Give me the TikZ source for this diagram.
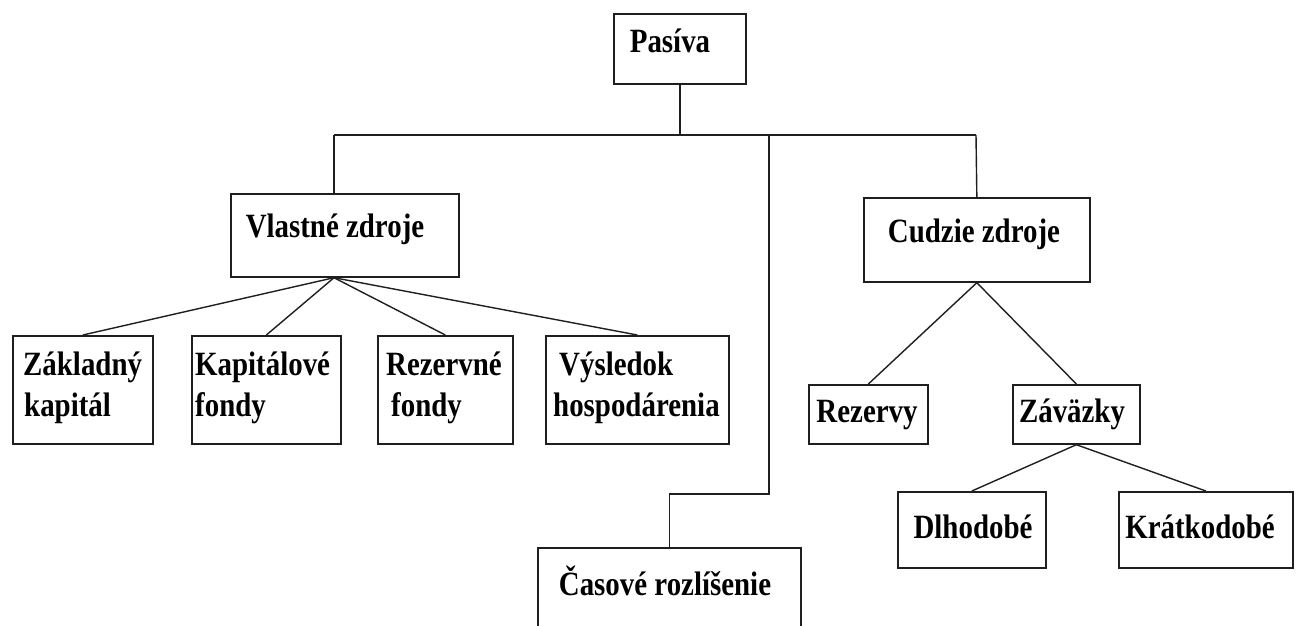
\documentclass[tikz,border=0pt]{standalone}
\usepackage{fontspec}
\setmainfont{Liberation Serif}[FakeStretch=0.85]
\usetikzlibrary{calc}
\begin{document}
\begin{tikzpicture}[x=1pt,y=-1pt,
  box/.style={draw=black!88, line width=1.7pt, inner sep=0pt, anchor=north west},
  link/.style={draw=black!88, line width=1.4pt},
  lbl/.style={inner sep=0pt, font=\fontsize{34}{40}\selectfont\bfseries},
  lblc/.style={lbl, anchor=base},
  lblw/.style={lbl, anchor=base west}]
\useasboundingbox (0,0) rectangle (1298,625);
\clip (0,0) rectangle (1298,625);
\fill[white] (0,0) rectangle (1298,625);

% boxes
\node[box, minimum width=132pt, minimum height=70pt] (pas) at (613,13) {};
\node[box, minimum width=228pt, minimum height=83pt] (vz) at (230,193) {};
\node[box, minimum width=226pt, minimum height=84pt] (cz) at (863,197) {};
\node[box, minimum width=140pt, minimum height=108pt] (zk) at (12,335) {};
\node[box, minimum width=149pt, minimum height=108pt] (kf) at (191,335) {};
\node[box, minimum width=135pt, minimum height=108pt] (rf) at (377,335) {};
\node[box, minimum width=183pt, minimum height=108pt] (vh) at (545,335) {};
\node[box, minimum width=119pt, minimum height=59pt] (rez) at (808,384) {};
\node[box, minimum width=127pt, minimum height=59pt] (zav) at (1012,384) {};
\node[box, minimum width=148pt, minimum height=76pt] (dl) at (897,491) {};
\node[box, minimum width=174pt, minimum height=76pt] (kr) at (1118,491) {};
\node[box, minimum width=263pt, minimum height=110pt] (cas) at (537,547) {};

% labels
\node[lblc] (t-pas) at (670,52) {Pasíva};
\node[lblc] (t-vz) at (335,237) {Vlastné zdroje};
\node[lblc] (t-cz) at (974,242) {Cudzie zdroje};
\node[lblw] (t-zk1) at (23,375) {Základný};
\node[lblw] (t-zk2) at (24,416) {kapitál};
\node[lblw] (t-kf1) at (195,375) {Kapitálové};
\node[lblw] (t-kf2) at (195,416) {fondy};
\node[lblw] (t-rf1) at (386,375) {Rezervné};
\node[lblw] (t-rf2) at (391,416) {fondy};
\node[lblw] (t-vh1) at (559,375) {Výsledok};
\node[lblw] (t-vh2) at (553,416) {hospodárenia};
\node[lblc] (t-rez) at (867,422) {Rezervy};
\node[lblc] (t-zav) at (1072,422) {Záväzky};
\node[lblc] (t-dl) at (973,538) {Dlhodobé};
\node[lblc] (t-kr) at (1200,538) {Krátkodobé};
\node[lblc] (t-cas) at (665,595) {Časové rozlíšenie};

% connectors
\coordinate (busL) at (334,135);
\coordinate (busM) at (769,135);
\coordinate (busR) at (976,135);
\coordinate (vzOut) at (busL |- vz.south);

\draw[link] (pas.south) -- (pas.south |- busL);
\draw[link] (busL) -- (busR);
\draw[link] (busL) -- (busL |- vz.north);
\draw[link] (busR) -- (cz.north);
\draw[link] (busM) -- ++(0,359) -| (cas.north);

\draw[link] (vzOut) -- (zk.north);
\draw[link] (vzOut) -- (kf.north);
\draw[link] (vzOut) -- (rf.north);
\draw[link] (vzOut) -- (vh.north);

\draw[link] (cz.south) -- (rez.north);
\draw[link] (cz.south) -- (zav.north);

\draw[link] (zav.south) -- (dl.north);
\draw[link] (zav.south) -- (kr.north);
\end{tikzpicture}
\end{document}
